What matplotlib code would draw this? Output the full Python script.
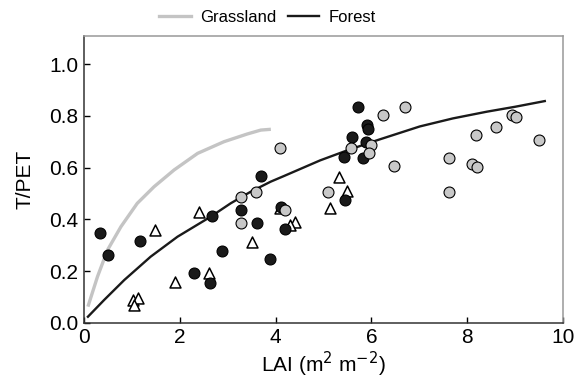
import numpy as np
import matplotlib.pyplot as plt
from matplotlib.lines import Line2D

# fitted curves
grass_lai = [0.08, 0.28, 0.49, 0.77, 1.11, 1.46, 1.88, 2.37, 2.92, 3.41, 3.69, 3.90]
grass_tpet = [0.063, 0.179, 0.282, 0.372, 0.462, 0.526, 0.591, 0.655, 0.700, 0.730, 0.745, 0.748]

forest_lai = [0.08, 0.42, 0.84, 1.39, 1.95, 2.64, 3.06, 3.48, 3.90, 4.18, 4.93, 5.5,
              6.14, 7.01, 7.7, 8.41, 9.0, 9.62]
forest_tpet = [0.024, 0.089, 0.166, 0.256, 0.333, 0.410, 0.462, 0.507, 0.546, 0.568, 0.628, 0.667,
               0.707, 0.759, 0.790, 0.816, 0.835, 0.857]

# observations
tri_lai = [2.39, 1.48, 1.89, 2.60, 1.03, 1.13, 1.04, 3.51, 4.09, 4.40, 4.29, 5.32, 5.50, 5.14]
tri_tpet = [0.430, 0.359, 0.160, 0.192, 0.089, 0.095, 0.069, 0.314, 0.443, 0.391, 0.378, 0.565, 0.511, 0.443]

black_lai = [0.33, 0.49, 1.17, 2.67, 2.30, 2.62, 2.89, 3.28, 3.61, 3.70, 3.89, 4.11, 4.19,
             5.73, 5.90, 5.92, 5.60, 5.88, 5.43, 5.83, 5.44]
black_tpet = [0.346, 0.263, 0.317, 0.414, 0.194, 0.156, 0.278, 0.436, 0.385, 0.567, 0.247, 0.449, 0.363,
              0.835, 0.764, 0.748, 0.717, 0.700, 0.642, 0.636, 0.475]

gray_lai = [4.09, 3.28, 3.59, 3.28, 4.20, 5.10, 6.24, 6.71, 5.57, 6.00, 5.95, 6.47, 7.61, 7.61,
            8.09, 8.20, 8.19, 8.61, 8.94, 9.02, 9.49]
gray_tpet = [0.674, 0.485, 0.506, 0.387, 0.435, 0.506, 0.803, 0.835, 0.674, 0.687, 0.655, 0.606, 0.636, 0.507,
             0.614, 0.604, 0.726, 0.755, 0.803, 0.794, 0.707]

plt.rcParams['font.family'] = ['Liberation Sans', 'DejaVu Sans']

fig = plt.figure(figsize=(5.84, 3.84), dpi=100)
ax = fig.add_axes([0.144, 0.159, 0.820, 0.747])

ax.plot(grass_lai, grass_tpet, color='#c4c4c4', lw=2.4, zorder=2, solid_capstyle='butt')
ax.plot(forest_lai, forest_tpet, color='#1a1a1a', lw=1.7, zorder=2)

ax.scatter(tri_lai, tri_tpet, marker='^', s=62, facecolor='white', edgecolor='black', linewidths=1.1, zorder=3)
ax.scatter(black_lai, black_tpet, marker='o', s=62, facecolor='#1a1a1a', edgecolor='black', linewidths=0.8, zorder=4)
ax.scatter(gray_lai, gray_tpet, marker='o', s=62, facecolor='#c8c8c8', edgecolor='black', linewidths=0.8, zorder=5)

ax.set_xlim(0, 10)
ax.set_ylim(0, 1.108)
ax.set_xticks([0, 2, 4, 6, 8, 10])
ax.set_yticks([0.0, 0.2, 0.4, 0.6, 0.8, 1.0])
ax.set_yticklabels(['0.0', '0.2', '0.4', '0.6', '0.8', '1.0'])
ax.tick_params(direction='in', length=4, width=1, labelsize=15, pad=4)

for side in ['left', 'bottom']:
    ax.spines[side].set_color('#333333')
    ax.spines[side].set_linewidth(1.1)
for side in ['top', 'right']:
    ax.spines[side].set_color('#999999')
    ax.spines[side].set_linewidth(1.1)

ax.set_xlabel('LAI (m$^2$ m$^{-2}$)', fontsize=15, labelpad=2)
ax.set_ylabel('T/PET', fontsize=15, labelpad=11)

handles = [Line2D([], [], color='#c4c4c4', lw=2.4), Line2D([], [], color='#1a1a1a', lw=1.7)]
fig.legend(handles, ['Grassland', 'Forest'], loc='center', bbox_to_anchor=(0.458, 0.955), ncol=2,
           frameon=False, fontsize=12, handlelength=1.9, handletextpad=0.55, columnspacing=0.7)

fig.savefig('out.png', dpi=100)
